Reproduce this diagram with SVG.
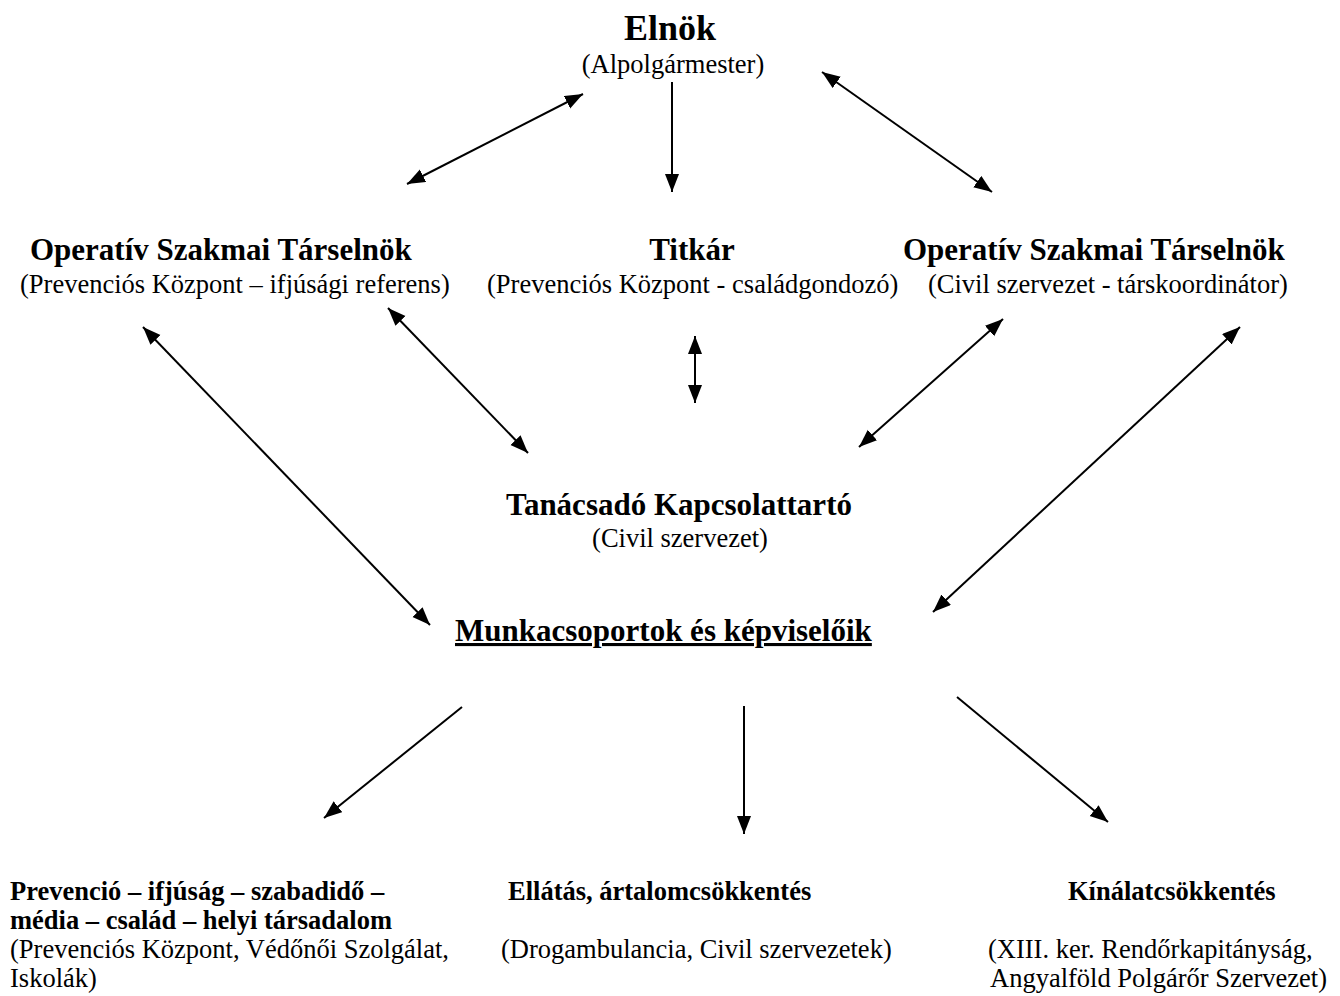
<svg xmlns="http://www.w3.org/2000/svg" width="1340" height="996" viewBox="0 0 1340 996">
<style>
text{font-family:"Liberation Serif","Times New Roman",serif;fill:#000}
.h0{font-size:36px;font-weight:bold}
.h1{font-size:31px;font-weight:bold}
.h2{font-size:26.5px;font-weight:bold}
.t{font-size:26.5px}
.c{text-anchor:middle}
.ln{stroke:#000;stroke-width:2;fill:none}
.bi{marker-start:url(#ah);marker-end:url(#ah)}
.one{marker-end:url(#ah)}
</style>
<defs>
<marker id="ah" markerUnits="userSpaceOnUse" markerWidth="20" markerHeight="16" refX="18" refY="7" orient="auto-start-reverse" viewBox="0 0 20 16">
<path d="M0,0 L18,7 L0,14 z" fill="#000"/>
</marker>
</defs>
<rect width="1340" height="996" fill="#fff"/>
<g id="elnok">
<text class="h0 c" x="670" y="40">Elnök</text>
<text class="t c" x="673" y="73">(Alpolgármester)</text>
</g>
<g id="tarselnok-bal">
<text class="h1" x="30" y="260">Operatív Szakmai Társelnök</text>
<text class="t" x="20" y="293">(Prevenciós Központ – ifjúsági referens)</text>
</g>
<g id="titkar">
<text class="h1 c" x="692" y="260">Titkár</text>
<text class="t" x="487" y="293">(Prevenciós Központ - családgondozó)</text>
</g>
<g id="tarselnok-jobb">
<text class="h1" x="903" y="260">Operatív Szakmai Társelnök</text>
<text class="t" x="928" y="293">(Civil szervezet - társkoordinátor)</text>
</g>
<g id="tanacsado">
<text class="h1 c" x="679" y="515">Tanácsadó Kapcsolattartó</text>
<text class="t c" x="680" y="547">(Civil szervezet)</text>
</g>
<g id="munkacsoportok">
<text class="h1" x="455" y="641" text-decoration="underline">Munkacsoportok és képviselőik</text>
</g>
<g id="prevencio">
<text class="h2" x="10" y="900">Prevenció – ifjúság – szabadidő –</text>
<text class="h2" x="10" y="929">média – család – helyi társadalom</text>
<text class="t" x="10" y="958">(Prevenciós Központ, Védőnői Szolgálat,</text>
<text class="t" x="10" y="987">Iskolák)</text>
</g>
<g id="ellatas">
<text class="h2" x="508" y="900">Ellátás, ártalomcsökkentés</text>
<text class="t" x="501" y="958">(Drogambulancia, Civil szervezetek)</text>
</g>
<g id="kinalat">
<text class="h2" x="1068" y="900">Kínálatcsökkentés</text>
<text class="t" x="988" y="958">(XIII. ker. Rendőrkapitányság,</text>
<text class="t" x="990" y="987">Angyalföld Polgárőr Szervezet)</text>
</g>
<g id="connectors">
<line class="ln bi" x1="583" y1="94" x2="407" y2="184"/>
<line class="ln one" x1="672" y1="82" x2="672" y2="192"/>
<line class="ln bi" x1="822" y1="72" x2="992" y2="192"/>
<line class="ln bi" x1="143" y1="327" x2="430" y2="625"/>
<line class="ln bi" x1="388" y1="308" x2="528" y2="453"/>
<line class="ln bi" x1="695" y1="336" x2="695" y2="403"/>
<line class="ln bi" x1="1003" y1="319" x2="859" y2="447"/>
<line class="ln bi" x1="1240" y1="327" x2="933" y2="612"/>
<line class="ln one" x1="462" y1="707" x2="324" y2="818"/>
<line class="ln one" x1="744" y1="706" x2="744" y2="834"/>
<line class="ln one" x1="957" y1="697" x2="1108" y2="822"/>
</g>
</svg>
